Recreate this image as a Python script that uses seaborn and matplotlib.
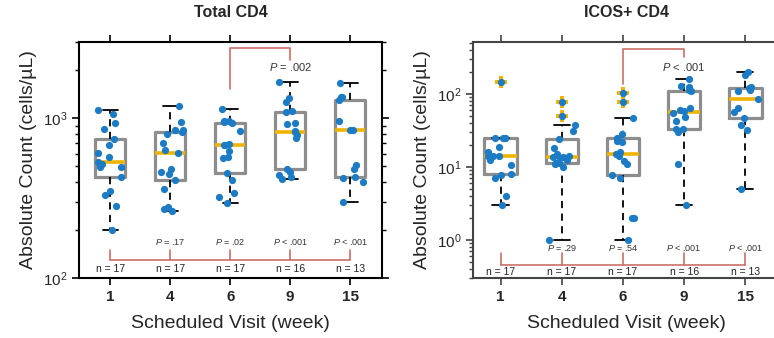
import numpy as np
import pandas as pd
import matplotlib
matplotlib.use("Agg")
import matplotlib.pyplot as plt
import matplotlib.ticker as mticker
import seaborn as sns

# weeks of the scheduled visits
visits = ["1", "4", "6", "9", "15"]

# Total CD4 (cells/uL), one list per visit
cd4_v1 = [200, 283, 330, 350, 430, 496, 496, 516, 533, 573, 607, 678, 745, 857, 935, 1059, 1122]
cd4_v4 = [264, 270, 279, 359, 412, 447, 462, 480, 607, 631, 695, 802, 822, 840, 850, 948, 1189]
cd4_v6 = [295, 320, 340, 410, 452, 565, 575, 620, 678, 680, 690, 830, 939, 945, 955, 965, 1150]
cd4_v9 = [415, 426, 440, 462, 484, 754, 783, 815, 829, 926, 939, 1090, 1110, 1264, 1347, 1686]
cd4_v15 = [300, 400, 425, 430, 480, 510, 840, 850, 960, 1300, 1350, 1360, 1660]

# ICOS+ CD4 (cells/uL)
icos_v1 = [3, 4, 7, 7.8, 7.9, 10.6, 12.5, 14, 14, 14, 16, 19, 25, 25, 25, 25, 144]
icos_v4 = [1, 10, 11, 11.2, 11.4, 12.5, 13.2, 13.8, 13.8, 14, 15, 18, 24, 31, 38, 50, 77]
icos_v6 = [1, 2, 2, 7, 7.8, 11, 12, 14, 15, 16, 22, 23, 25, 28, 47, 77, 102]
icos_v9 = [3, 11, 30, 33, 33.5, 42, 48, 55, 59, 60, 64, 110, 115, 125, 130, 160]
icos_v15 = [5, 32, 38, 46.5, 57, 64, 85, 108, 112, 120, 126, 180, 200]

# p values vs week 1
cd4_p = ["", "= .17", "= .02", "< .001", "< .001"]
cd4_p_top = "= .002"
icos_p = ["", "= .29", "= .54", "< .001", "< .001"]
icos_p_top = "< .001"

BLUE = "#1b7bc4"
GOLD = "#f0b400"
RED = "#cc6f68"
GREY = "#8d8d8d"


def make_df(groups):
    rows = []
    for v, vals in zip(visits, groups):
        for x in vals:
            rows.append({"visit": v, "count": x})
    df = pd.DataFrame(rows)
    # flag points outside 1.5 IQR (same rule as the boxplot)
    out = []
    for v, g in df.groupby("visit", sort=False):
        q1, q3 = np.percentile(g["count"], [25, 75])
        iqr = q3 - q1
        out.append((g["count"] > q3 + 1.5 * iqr) | (g["count"] < q1 - 1.5 * iqr))
    df["outlier"] = pd.concat(out)
    return df


def draw_panel(ax, df, title, ylim, xlim, box_w, pv, pv_top, lv, spine_col):
    sns.boxplot(data=df, x="visit", y="count", order=visits, ax=ax, width=box_w,
                whis=1.5, showfliers=False, fill=False, color=GREY, linewidth=2.3,
                boxprops=dict(color=GREY, linewidth=2.3),
                medianprops=dict(color=GOLD, linewidth=2.6),
                whiskerprops=dict(color="black", linestyle=(0, (4, 3)), linewidth=1.3),
                capprops=dict(color="black", linewidth=1.3))
    ax.set_yscale("log")
    np.random.seed(3)
    sns.stripplot(data=df[~df.outlier], x="visit", y="count", order=visits, ax=ax,
                  jitter=0.22, color=BLUE, size=5.2, linewidth=0, zorder=4)
    out = df[df.outlier]
    if len(out):
        sns.stripplot(data=out, x="visit", y="count", order=visits, ax=ax, jitter=False,
                      marker="P", color=GOLD, size=8, linewidth=0, zorder=4)
        sns.stripplot(data=out, x="visit", y="count", order=visits, ax=ax, jitter=False,
                      color=BLUE, size=5.2, linewidth=0, zorder=5)

    ax.set_xlim(*xlim)
    ax.set_ylim(*ylim)
    ax.yaxis.set_major_locator(mticker.LogLocator(base=10))
    ax.yaxis.set_minor_locator(mticker.LogLocator(base=10, subs=np.arange(2, 10)))
    ax.yaxis.set_minor_formatter(mticker.NullFormatter())
    ax.tick_params(which="both", direction="out", top=True, right=True, color=spine_col)
    ax.tick_params(which="major", length=5, width=1.2, labelsize=11)
    ax.tick_params(which="minor", length=3, width=1.0)
    for lab in ax.get_xticklabels():
        lab.set_fontweight("bold")
    for s in ax.spines.values():
        s.set_color(spine_col)
        s.set_linewidth(1.5)

    ax.set_title(title, fontsize=11.5, fontweight="bold", pad=18)
    ax.set_xlabel("Scheduled Visit (week)", fontsize=14, labelpad=8)
    ax.set_ylabel("Absolute Count (cells/\u00b5L)", fontsize=14, labelpad=4)

    # bottom bracket: each visit vs week 1
    y_line, y_tick, y_p, y_n = lv["line"], lv["tick"], lv["p"], lv["n"]
    ax.plot([0, 4], [y_line, y_line], color=RED, lw=1.2, zorder=3)
    for i, v in enumerate(visits):
        ax.plot([i, i], [y_line, y_tick], color=RED, lw=1.2, zorder=3)
        n = int((df["visit"] == v).sum())
        ax.text(i, y_n, f"n = {n}", ha="center", va="center", fontsize=7.5, color="#222222")
        if pv[i]:
            ax.text(i, y_p, f"$P$ {pv[i]}", ha="center", va="center", fontsize=6.5, color="#333333")
    # top bracket: week 6 vs week 9
    ax.plot([2, 2, 3, 3], [lv["top_lo"], lv["top_hi"], lv["top_hi"], lv["top_end"]],
            color=RED, lw=1.2, zorder=3)
    ax.text(3, lv["top_p"], f"$P$ {pv_top}", ha="center", va="center", fontsize=8, color="#333333")


sns.set_style("ticks")
plt.rcParams["font.family"] = ["Liberation Sans Narrow", "Liberation Sans", "DejaVu Sans"]
plt.rcParams["mathtext.fontset"] = "custom"
plt.rcParams["mathtext.rm"] = "Liberation Sans"
plt.rcParams["mathtext.it"] = "Liberation Sans:italic"
plt.rcParams["mathtext.bf"] = "Liberation Sans:bold"

fig = plt.figure(figsize=(7.74, 3.38), dpi=100)
ax1 = fig.add_axes([79 / 774, 60 / 338, 303 / 774, 236 / 338])
ax2 = fig.add_axes([473 / 774, 60 / 338, 306 / 774, 236 / 338])

draw_panel(ax1, make_df([cd4_v1, cd4_v4, cd4_v6, cd4_v9, cd4_v15]), "Total CD4",
           (100, 3000), (-0.52, 4.53), 0.5, cd4_p, cd4_p_top,
           dict(line=130, tick=150, p=169, n=114, top_lo=1520, top_hi=2740, top_end=2300, top_p=2080),
           "black")
draw_panel(ax2, make_df([icos_v1, icos_v4, icos_v6, icos_v9, icos_v15]), "ICOS+ CD4",
           (0.3, 515), (-0.45, 4.55), 0.53, icos_p, icos_p_top,
           dict(line=0.45, tick=0.66, p=0.78, n=0.365, top_lo=137, top_hi=413, top_end=321, top_p=234),
           "#444444")

fig.savefig("out.png", dpi=100)
